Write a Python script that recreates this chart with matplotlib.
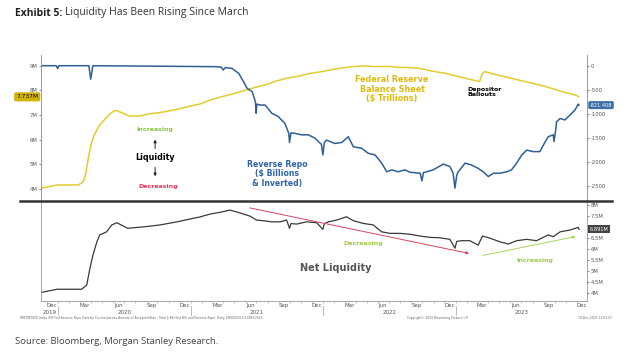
import matplotlib.pyplot as plt
import matplotlib.dates as mdates
import matplotlib.transforms as mtransforms
from matplotlib.lines import Line2D
import pandas as pd

# Fed balance sheet ($ trillions) - yellow, left axis of top panel
fed_dates = ['2019-11-15', '2019-12-31', '2020-02-26', '2020-03-11', '2020-03-18', '2020-03-25',
             '2020-04-01', '2020-04-08', '2020-04-22', '2020-05-06', '2020-05-20', '2020-06-03',
             '2020-06-10', '2020-06-24', '2020-07-15', '2020-08-12', '2020-09-09', '2020-10-07',
             '2020-11-04', '2020-11-25', '2020-12-30', '2021-01-27', '2021-02-24', '2021-03-24',
             '2021-04-28', '2021-05-26', '2021-06-23', '2021-07-28', '2021-08-25', '2021-09-22',
             '2021-10-27', '2021-11-24', '2021-12-29', '2022-01-26', '2022-02-23', '2022-03-23',
             '2022-04-27', '2022-05-25', '2022-06-29', '2022-07-27', '2022-08-31', '2022-09-28',
             '2022-10-26', '2022-11-30', '2022-12-28', '2023-01-25', '2023-02-22', '2023-03-08',
             '2023-03-15', '2023-03-22', '2023-04-26', '2023-05-31', '2023-06-28', '2023-07-26',
             '2023-08-30', '2023-09-27', '2023-10-25', '2023-11-29', '2023-12-06']
fed_vals = [4.04, 4.17, 4.17, 4.31, 4.67, 5.30,
            5.82, 6.13, 6.55, 6.78, 7.00, 7.17,
            7.18, 7.10, 6.96, 6.96, 7.05, 7.10,
            7.17, 7.24, 7.36, 7.45, 7.61, 7.73,
            7.86, 7.98, 8.10, 8.23, 8.38, 8.49,
            8.58, 8.68, 8.76, 8.84, 8.91, 8.96,
            8.99, 8.96, 8.97, 8.93, 8.92, 8.88,
            8.78, 8.70, 8.60, 8.50, 8.40, 8.36,
            8.66, 8.76, 8.62, 8.50, 8.40, 8.30,
            8.18, 8.06, 7.93, 7.80, 7.737]

# Reverse repo ($ billions, inverted) - blue, right axis of top panel
rrp_dates = ['2019-11-15', '2019-12-27', '2019-12-31', '2020-01-03', '2020-03-26', '2020-03-31',
             '2020-04-06', '2021-03-09', '2021-03-26', '2021-03-31', '2021-04-06', '2021-04-24',
             '2021-05-13', '2021-05-26', '2021-06-05', '2021-06-19', '2021-06-28', '2021-06-30',
             '2021-07-02', '2021-07-11', '2021-07-25', '2021-08-12', '2021-08-30', '2021-09-17',
             '2021-09-28', '2021-09-30', '2021-10-04', '2021-10-15', '2021-11-02', '2021-11-21',
             '2021-12-09', '2021-12-27', '2021-12-31', '2022-01-04', '2022-01-10', '2022-02-02',
             '2022-02-21', '2022-03-11', '2022-03-25', '2022-04-17', '2022-05-05', '2022-05-24',
             '2022-06-11', '2022-06-25', '2022-07-09', '2022-07-27', '2022-08-14', '2022-08-28',
             '2022-09-25', '2022-09-30', '2022-10-04', '2022-10-13', '2022-10-31', '2022-11-28',
             '2022-12-16', '2022-12-25', '2022-12-30', '2023-01-04', '2023-01-08', '2023-01-27',
             '2023-02-14', '2023-03-04', '2023-03-18', '2023-04-01', '2023-04-15', '2023-05-03',
             '2023-05-22', '2023-06-04', '2023-06-18', '2023-07-02', '2023-07-16', '2023-08-03',
             '2023-08-21', '2023-08-31', '2023-09-13', '2023-09-27', '2023-09-29', '2023-10-03',
             '2023-10-06', '2023-10-16', '2023-10-29', '2023-11-12', '2023-11-26', '2023-12-05',
             '2023-12-07']
rrp_vals = [0, 0, -60, 0, 0, -280,
            0, -20, -30, -90, -40, -55,
            -160, -330, -470, -540, -750, -990,
            -800, -820, -820, -990, -1060, -1200,
            -1410, -1600, -1400, -1410, -1440, -1440,
            -1510, -1640, -1860, -1600, -1550, -1620,
            -1600, -1480, -1690, -1720, -1825, -1860,
            -2030, -2210, -2170, -2210, -2170, -2220,
            -2240, -2400, -2230, -2210, -2170, -2050,
            -2100, -2240, -2550, -2280, -2210, -2030,
            -2070, -2140, -2210, -2310, -2240, -2240,
            -2210, -2170, -2030, -1860, -1760, -1790,
            -1790, -1650, -1480, -1440, -1580, -1380,
            -1170, -1100, -1130, -1030, -920, -800,
            -821.408]

# Net liquidity ($ trillions) - bottom panel
net_dates = ['2019-11-17', '2019-12-29', '2020-03-06', '2020-03-20', '2020-03-28', '2020-04-05',
             '2020-04-17', '2020-04-25', '2020-05-14', '2020-05-28', '2020-06-11', '2020-07-11',
             '2020-08-22', '2020-10-08', '2020-11-24', '2021-01-08', '2021-01-26', '2021-02-23',
             '2021-03-22', '2021-04-19', '2021-05-07', '2021-05-26', '2021-06-13', '2021-07-01',
             '2021-07-20', '2021-08-12', '2021-09-04', '2021-09-22', '2021-09-30', '2021-10-04',
             '2021-10-20', '2021-11-16', '2021-12-14', '2021-12-31', '2022-01-04', '2022-01-15',
             '2022-02-07', '2022-03-06', '2022-03-25', '2022-04-21', '2022-05-19', '2022-06-11',
             '2022-07-04', '2022-07-31', '2022-08-28', '2022-09-25', '2022-10-22', '2022-11-19',
             '2022-12-16', '2022-12-30', '2023-01-04', '2023-01-18', '2023-02-09', '2023-03-04',
             '2023-03-16', '2023-04-06', '2023-05-03', '2023-05-26', '2023-06-18', '2023-07-16',
             '2023-08-12', '2023-09-13', '2023-09-27', '2023-10-16', '2023-11-12', '2023-12-05',
             '2023-12-07']
net_vals = [4.05, 4.19, 4.19, 4.38, 5.06, 5.66,
            6.33, 6.64, 6.78, 7.09, 7.19, 6.94,
            7.00, 7.09, 7.23, 7.39, 7.45, 7.58,
            7.66, 7.76, 7.68, 7.58, 7.49, 7.31,
            7.28, 7.23, 7.23, 7.31, 6.94, 7.15,
            7.13, 7.23, 7.19, 6.89, 7.15, 7.23,
            7.31, 7.46, 7.28, 7.16, 7.09, 6.78,
            6.71, 6.71, 6.67, 6.59, 6.53, 6.51,
            6.44, 6.04, 6.35, 6.38, 6.38, 6.18,
            6.59, 6.49, 6.33, 6.23, 6.38, 6.44,
            6.38, 6.64, 6.56, 6.78, 6.86, 6.98,
            6.891]

fed_t = pd.to_datetime(fed_dates)
rrp_t = pd.to_datetime(rrp_dates)
net_t = pd.to_datetime(net_dates)

YELLOW = '#e3cc2f'
BLUE = '#2f5f96'
GREY_LINE = '#3a3a3a'
TICK_C = '#555555'

fig = plt.figure(figsize=(6.4, 3.57), dpi=100)
fig.patch.set_facecolor('white')

W, H = 640.0, 357.0
x0, x1 = 41 / W, 587 / W
ax = fig.add_axes([x0, (H - 201) / H, x1 - x0, 146 / H])
axr = ax.twinx()
ax2 = fig.add_axes([x0, (H - 301) / H, x1 - x0, 100 / H], sharex=ax)

ax.plot(fed_t, fed_vals, color=YELLOW, lw=1.1)
axr.plot(rrp_t, rrp_vals, color=BLUE, lw=1.1)
ax2.plot(net_t, net_vals, color=GREY_LINE, lw=0.9)

ax.set_xlim(pd.Timestamp('2019-11-15'), pd.Timestamp('2023-12-29'))
ax.set_ylim(3.52, 9.43)
axr.set_ylim(-2819, 223)
ax2.set_ylim(3.66, 8.17)

# top panel styling
for a in (ax, axr):
    for s in ('top', 'bottom'):
        a.spines[s].set_visible(False)
    a.spines['left'].set_color('#999999')
    a.spines['right'].set_color('#999999')
    a.spines['left'].set_linewidth(0.6)
    a.spines['right'].set_linewidth(0.6)
ax.set_yticks([4, 5, 6, 7, 8, 9])
ax.set_yticklabels([f'{v}M' for v in [4, 5, 6, 7, 8, 9]])
axr.set_yticks([0, -500, -1000, -1500, -2000, -2500])
axr.set_yticklabels(['0', '-500', '-1000', '-1500', '-2000', '-2500'])
ax.tick_params(axis='y', labelsize=3.8, colors=TICK_C, length=1.5, width=0.5, pad=1)
axr.tick_params(axis='y', labelsize=3.8, colors=TICK_C, length=1.5, width=0.5, pad=1)
ax.tick_params(axis='x', bottom=False, labelbottom=False)

# bottom panel styling
ax2.spines['top'].set_visible(False)
for s in ('left', 'right', 'bottom'):
    ax2.spines[s].set_color('#999999')
    ax2.spines[s].set_linewidth(0.6)
ax2.yaxis.tick_right()
net_ticks = [4, 4.5, 5, 5.5, 6, 6.5, 7, 7.5, 8]
ax2.set_yticks(net_ticks)
# 7M sits under the last-value box, as in the original
ax2.set_yticklabels(['' if v == 7 else f'{v:g}M' for v in net_ticks])
ax2.tick_params(axis='y', labelsize=3.8, colors=TICK_C, length=1.5, width=0.5, pad=1)

ax2.xaxis.set_major_locator(mdates.MonthLocator(bymonth=[3, 6, 9, 12], bymonthday=15))
ax2.xaxis.set_major_formatter(mdates.DateFormatter('%b'))
ax2.xaxis.set_minor_locator(mdates.MonthLocator(bymonthday=1))
ax2.tick_params(axis='x', which='major', labelsize=4, colors=TICK_C, length=0, pad=1.5)
ax2.tick_params(axis='x', which='minor', length=1.5, width=0.4, color='#999999')

# year labels centred in each year's visible span, with separators at Jan 1
xl0, xl1 = ax2.get_xlim()
trans = mtransforms.blended_transform_factory(ax2.transData, ax2.transAxes)
for yr in range(2019, 2024):
    a0 = max(mdates.date2num(pd.Timestamp(f'{yr}-01-01')), xl0)
    a1 = min(mdates.date2num(pd.Timestamp(f'{yr + 1}-01-01')), xl1)
    ax2.text((a0 + a1) / 2, -0.095, str(yr), transform=trans, ha='center', va='top',
             fontsize=4, color=TICK_C)
    if yr > 2019:
        jx = mdates.date2num(pd.Timestamp(f'{yr}-01-01'))
        ax2.plot([jx, jx], [-0.05, -0.14], transform=trans, color='#888888', lw=0.4,
                 clip_on=False)

# thick separator between panels
fig.add_artist(Line2D([20 / W, 612 / W], [(H - 201) / H] * 2, color='#333333', lw=1.8))

# last value boxes
ax.annotate(f'{fed_vals[-1]:.3f}M', xy=(0, fed_vals[-1]), xycoords=('axes fraction', 'data'),
            xytext=(-2, 0), textcoords='offset points', ha='right', va='center',
            fontsize=4.2, color='black',
            bbox=dict(boxstyle='round,pad=0.35,rounding_size=0.3', fc='#d2b300', ec='none'))
axr.annotate(f'{rrp_vals[-1]:.3f}', xy=(1, rrp_vals[-1]), xycoords=('axes fraction', 'data'),
             xytext=(2, 0), textcoords='offset points', ha='left', va='center',
             fontsize=3.6, color='white',
             bbox=dict(boxstyle='round,pad=0.3,rounding_size=0.3', fc='#3c6ea8', ec='none'))
ax2.annotate(f'{net_vals[-1]:.3f}M', xy=(1, net_vals[-1]), xycoords=('axes fraction', 'data'),
             xytext=(2, 0), textcoords='offset points', ha='left', va='center',
             fontsize=3.6, color='white', zorder=10,
             bbox=dict(boxstyle='square,pad=0.3', fc='#444444', ec='none'))

# top panel annotations
ax.text(0.209, 0.493, 'Increasing', transform=ax.transAxes, ha='center', va='center',
        fontsize=4.5, color='#8cc63f', fontweight='bold')
ax.annotate('', xy=(0.209, 0.44), xytext=(0.209, 0.34), xycoords='axes fraction',
            arrowprops=dict(arrowstyle='-|>', color='#222222', lw=0.7, mutation_scale=4))
ax.text(0.209, 0.295, 'Liquidity', transform=ax.transAxes, ha='center', va='center',
        fontsize=5.8, color='black', fontweight='bold')
ax.annotate('', xy=(0.209, 0.15), xytext=(0.209, 0.25), xycoords='axes fraction',
            arrowprops=dict(arrowstyle='-|>', color='#222222', lw=0.7, mutation_scale=4))
ax.text(0.214, 0.096, 'Decreasing', transform=ax.transAxes, ha='center', va='center',
        fontsize=4.5, color='#e8335a', fontweight='bold')
ax.text(0.643, 0.767, 'Federal Reserve\nBalance Sheet\n($ Trillions)', transform=ax.transAxes,
        ha='center', va='center', fontsize=5.8, color='#e0b90f', fontweight='bold',
        linespacing=1.05)
ax.text(0.432, 0.185, 'Reverse Repo\n($ Billions\n& Inverted)', transform=ax.transAxes,
        ha='center', va='center', fontsize=5.6, color='#2f63a8', fontweight='bold',
        linespacing=1.05)
ax.text(0.780, 0.747, 'Depositor\nBallouts', transform=ax.transAxes, ha='left', va='center',
        fontsize=4.5, color='black', fontweight='bold', linespacing=1.05)

# bottom panel annotations
ax2.annotate('', xy=(0.789, 0.47), xytext=(0.377, 0.937), xycoords='axes fraction',
             arrowprops=dict(arrowstyle='-|>', color='#d9465f', lw=0.7, mutation_scale=4))
ax2.annotate('', xy=(0.984, 0.65), xytext=(0.804, 0.45), xycoords='axes fraction',
             arrowprops=dict(arrowstyle='-|>', color='#a5d65a', lw=0.7, mutation_scale=4))
ax2.text(0.59, 0.58, 'Decreasing', transform=ax2.transAxes, ha='center', va='center',
         fontsize=4.5, color='#9ccc48', fontweight='bold')
ax2.text(0.905, 0.403, 'Increasing', transform=ax2.transAxes, ha='center', va='center',
         fontsize=4.5, color='#9ccc48', fontweight='bold')
ax2.text(0.54, 0.33, 'Net Liquidity', transform=ax2.transAxes, ha='center', va='center',
         fontsize=7, color='#555555', fontweight='bold')

# title, footnotes and source
fig.text(15 / W, 1 - 13 / H, 'Exhibit 5:', ha='left', va='center', fontsize=7.5,
         fontweight='bold', color='#222222', family='Open Sans')
fig.text(65 / W, 1 - 13 / H, 'Liquidity Has Been Rising Since March', ha='left', va='center',
         fontsize=7.5, color='#333333', family='Open Sans')
fig.text(20 / W, 1 - 318 / H,
         'RRPONTSYD Index (NY Fed Reverse Repo Data by Counterparties Amount of Accepted Bids - '
         'Total $ Bil) Fed B/S and Reverse Repo  Daily 29NOV2019-10DEC2023',
         ha='left', va='center', fontsize=2.2, color='#666666')
fig.text(438 / W, 1 - 318 / H, 'Copyright\u00a9 2023 Bloomberg Finance L.P.', ha='center',
         va='center', fontsize=2.2, color='#666666')
fig.text(612 / W, 1 - 318 / H, '10-Dec-2023 11:03:07', ha='right', va='center',
         fontsize=2.2, color='#666666')
fig.text(15 / W, 1 - 341 / H, 'Source: Bloomberg, Morgan Stanley Research.', ha='left',
         va='center', fontsize=6.8, color='#444444', family='Open Sans')

fig.savefig('out.png', dpi=100, facecolor='white')
